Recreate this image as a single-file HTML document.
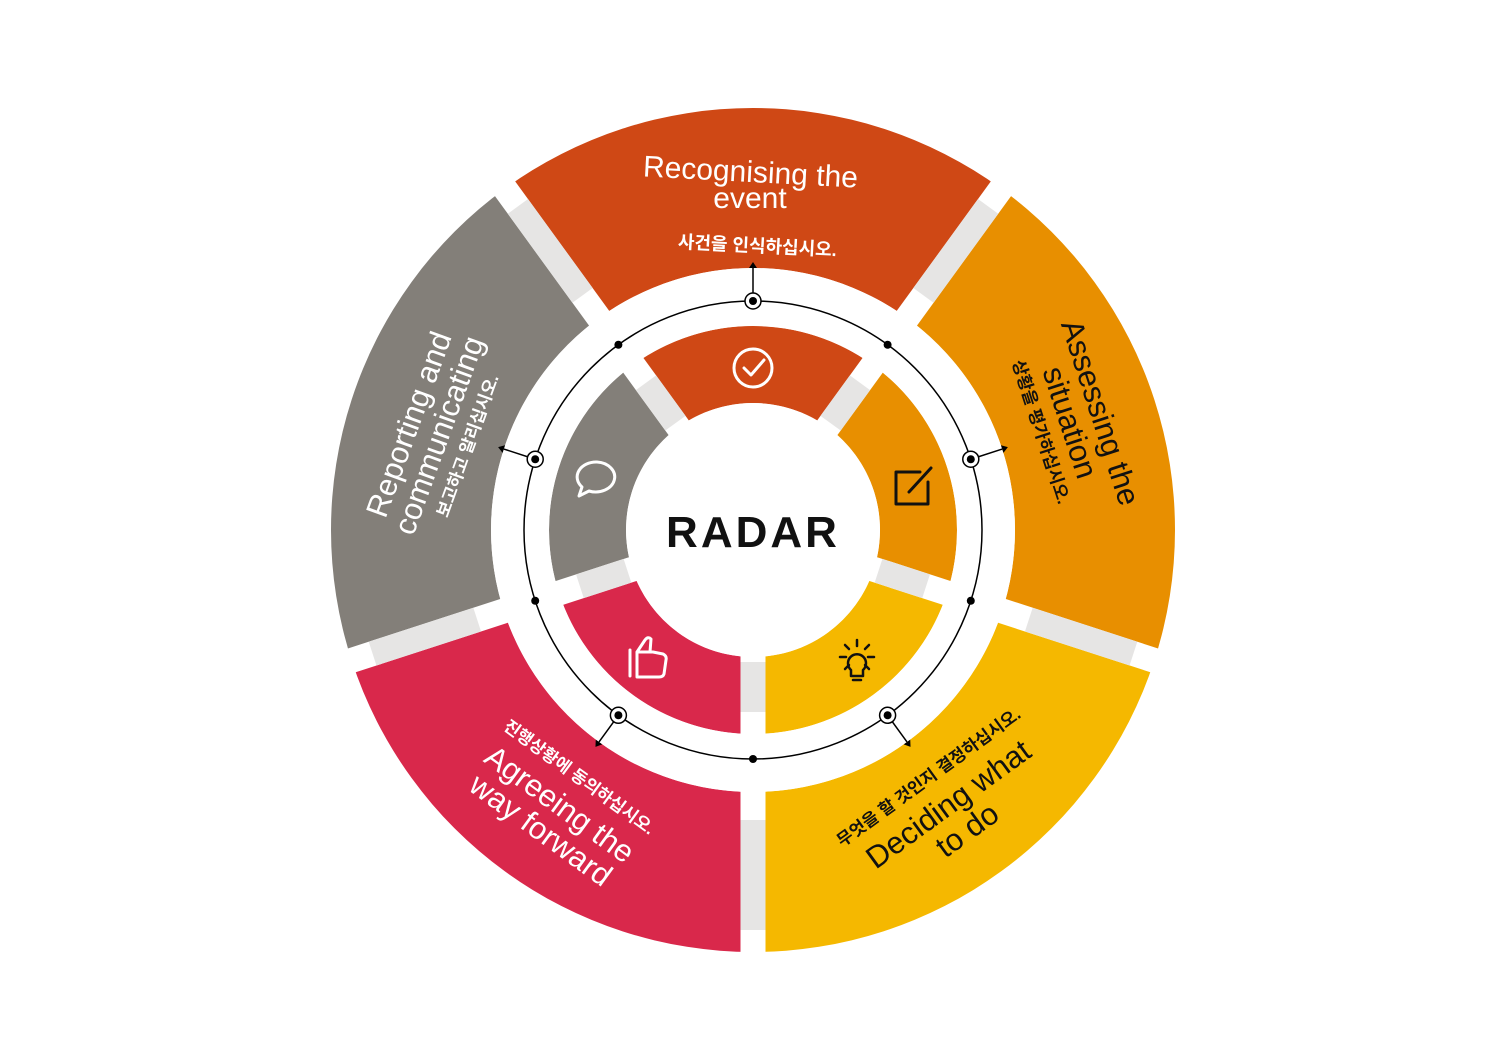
<!DOCTYPE html>
<html><head><meta charset="utf-8"><style>
html,body{margin:0;padding:0;background:#fff;}
svg{display:block;}
text{font-family:"Liberation Sans","Noto Sans CJK KR",sans-serif;}
</style></head><body>
<svg id="s" width="1500" height="1060" viewBox="0 0 1500 1060" xmlns="http://www.w3.org/2000/svg">
<g id="segs"></g>
<g id="gaps"></g>
<circle cx="753" cy="530" r="127" fill="#fff"/>
<circle cx="753" cy="530" r="229" fill="none" stroke="#000" stroke-width="1.5"/>
<g id="marks"></g>
<text x="753" y="547" text-anchor="middle" font-size="44" font-weight="bold" letter-spacing="3" fill="#111">RADAR</text>

<!-- icons -->
<g fill="none" stroke="#fff" stroke-width="3" stroke-linecap="round" stroke-linejoin="round">
<circle cx="753" cy="368" r="19"/>
<path d="M744 368 l7 7 l13 -15"/>
<path d="M597 462 a19 15 0 1 1 -8 29 l-10 5 l3 -9 a19 15 0 0 1 15 -25z"/>
<path d="M630 650 v26 M637 652 h16 l10 2 q4 2 3 6 l-2 14 q-1 3 -5 3 h-22z M637 652 l8 -12 q3 -4 6 -1 l-1 13"/>
</g>
<g fill="none" stroke="#111" stroke-width="3" stroke-linecap="round" stroke-linejoin="round">
<path d="M920 472 h-24 v32 h32 v-22"/>
<path d="M909 492 l22 -24"/>
<g stroke-width="2.5">
<path d="M851 670 a9 9 0 1 1 12 0 v6 h-12z M853 680 h8"/>
<path d="M857 640 v6 M840 657 h6 M868 657 h6 M845 645 l4 4 M869 645 l-4 4 M845 669 l4 -4 M869 669 l-4 -4"/>
</g>
</g>

<!-- labels -->
<g fill="#fff" font-size="30" text-anchor="middle">
<text transform="translate(750,182) rotate(3)">Recognising the</text>
<text x="750" y="208">event</text>
</g>
<text x="757" y="252" text-anchor="middle" font-size="18" font-weight="bold" fill="#fff" transform="rotate(3 757 252)">사건을 인식하십시오.</text>

<g transform="translate(430,432) rotate(-70)" text-anchor="middle">
<text y="-12" font-size="31" fill="#fff">Reporting and</text>
<text y="20" font-size="31" fill="#fff">communicating</text>
<text y="46" font-size="17" font-weight="bold" fill="#fff">보고하고 알리십시오.</text>
</g>

<g transform="translate(1062,425) rotate(72)" text-anchor="middle">
<text y="-30" font-size="31" fill="#111">Assessing the</text>
<text y="2" font-size="31" fill="#111">situation</text>
<text y="28" font-size="17" font-weight="bold" fill="#111">상황을 평가하십시오.</text>
</g>

<g transform="translate(938,790) rotate(-36)" text-anchor="middle">
<text y="-10" font-size="17" font-weight="bold" fill="#111">무엇을 할 것인지 결정하십시오.</text>
<text y="28" font-size="31" fill="#111">Deciding what</text>
<text y="60" font-size="31" fill="#111">to do</text>
</g>

<g transform="translate(570,790) rotate(36)" text-anchor="middle">
<text y="-10" font-size="17" font-weight="bold" fill="#fff">진행상황에 동의하십시오.</text>
<text y="28" font-size="31" fill="#fff">Agreeing the</text>
<text y="60" font-size="31" fill="#fff">way forward</text>
</g>
</svg>
<script>
(function(){
var NS="http://www.w3.org/2000/svg",cx=753,cy=530;
function P(r,a){a=a*Math.PI/180;return [cx+r*Math.cos(a),cy+r*Math.sin(a)];}
function sector(r0,r1,a0,a1){var p=P(r1,a0),q=P(r1,a1),s=P(r0,a1),t=P(r0,a0);
return "M"+p+" A"+r1+" "+r1+" 0 0 1 "+q+" L"+s+" A"+r0+" "+r0+" 0 0 0 "+t+"Z";}
function el(n,at,par){var e=document.createElementNS(NS,n);for(var k in at)e.setAttribute(k,at[k]);document.getElementById(par).appendChild(e);return e;}
var segs=[[-126,-54,"#cf4815"],[-54,18,"#e88f00"],[18,90,"#f5b800"],[90,162,"#d9284b"],[162,234,"#837f79"]];
segs.forEach(function(s){
 el("path",{d:sector(262,422,s[0],s[1]),fill:s[2]},"segs");
 el("path",{d:sector(127,204,s[0],s[1]),fill:s[2]},"segs");
});
el("path",{d:"M"+(cx-262)+" "+cy+" a262 262 0 1 0 524 0 a262 262 0 1 0 -524 0 M"+(cx-204)+" "+cy+" a204 204 0 1 1 408 0 a204 204 0 1 1 -408 0z",fill:"#fff","fill-rule":"evenodd"},"segs");
[-54,18,90,162,234].forEach(function(a){
 var A=P(120,a),B=P(430,a);
 el("line",{x1:A[0],y1:A[1],x2:B[0],y2:B[1],stroke:"#fff","stroke-width":25},"gaps");
 var c=P(290,a),d=P(400,a);
 el("line",{x1:c[0],y1:c[1],x2:d[0],y2:d[1],stroke:"#e6e5e4","stroke-width":25},"gaps");
 var e=P(132,a),f=P(182,a);
 el("line",{x1:e[0],y1:e[1],x2:f[0],y2:f[1],stroke:"#e6e5e4","stroke-width":25},"gaps");
 var m=P(229,a);
 el("circle",{cx:m[0],cy:m[1],r:4,fill:"#000"},"marks");
});
[-90,-18,54,126,198].forEach(function(a){
 var m=P(229,a),t=P(262,a);
 el("line",{x1:m[0],y1:m[1],x2:t[0],y2:t[1],stroke:"#000","stroke-width":1.5},"marks");
 var r=a*Math.PI/180,ux=Math.cos(r),uy=Math.sin(r),vx=-uy,vy=ux;
 el("path",{d:"M"+(t[0]+ux*6)+" "+(t[1]+uy*6)+" L"+(t[0]+vx*4)+" "+(t[1]+vy*4)+" L"+(t[0]-vx*4)+" "+(t[1]-vy*4)+"Z",fill:"#000"},"marks");
 el("circle",{cx:m[0],cy:m[1],r:8,fill:"#fff",stroke:"#000","stroke-width":1.5},"marks");
 el("circle",{cx:m[0],cy:m[1],r:4,fill:"#000"},"marks");
});
})();
</script>
</body></html>
